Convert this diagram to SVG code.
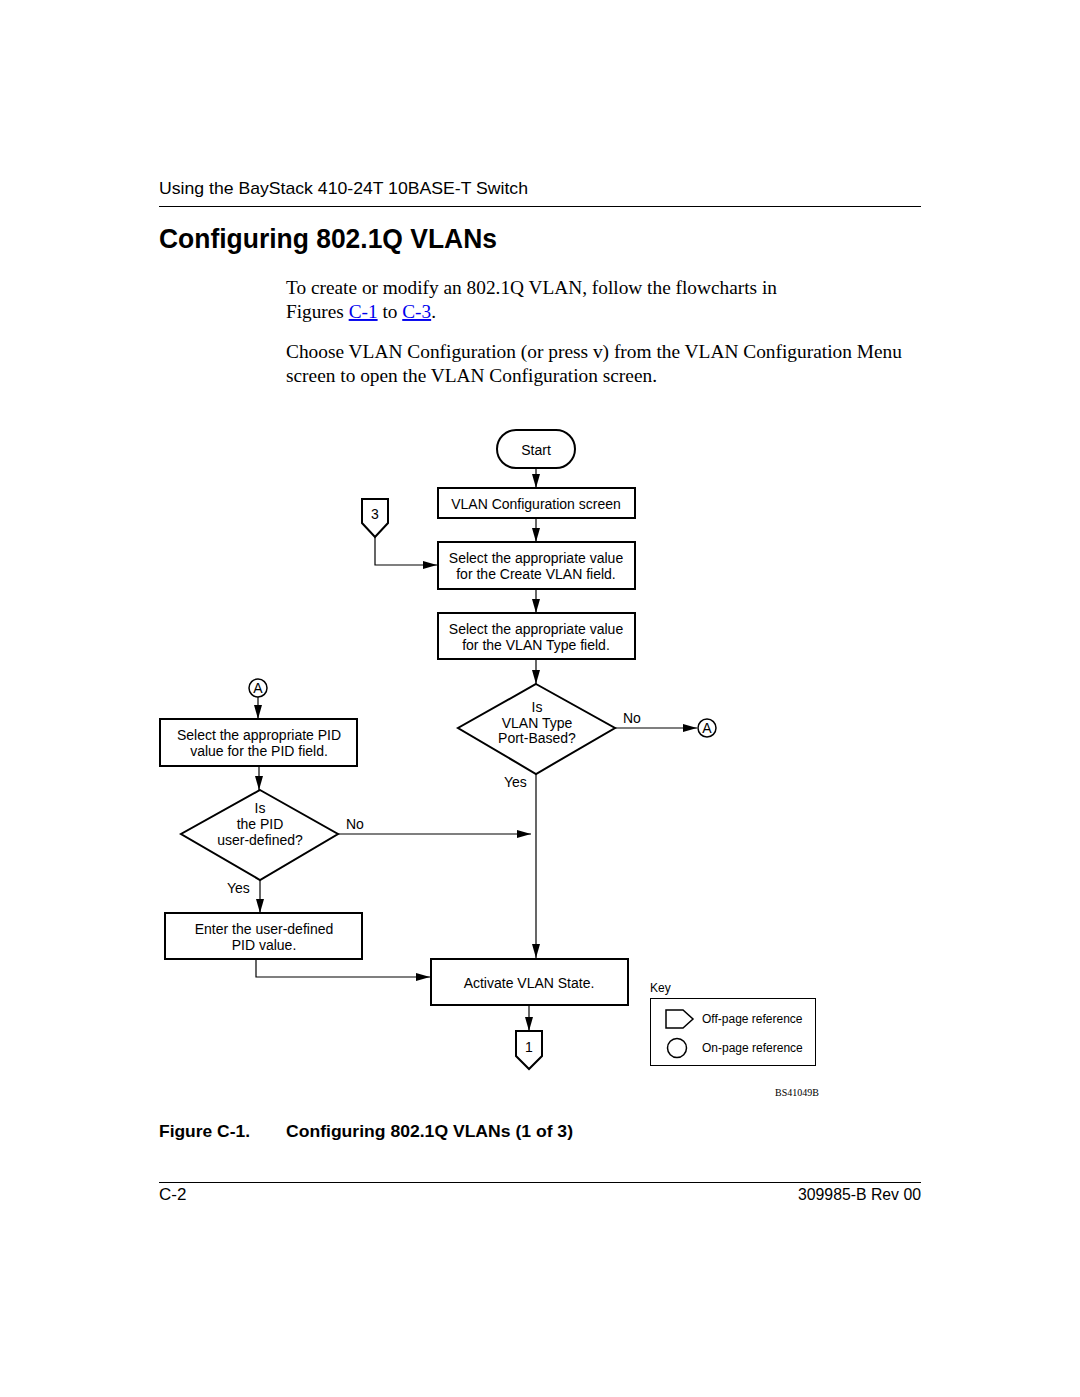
<svg xmlns="http://www.w3.org/2000/svg" width="1080" height="1397" viewBox="0 0 1080 1397">
<defs>
<marker id="ah" viewBox="0 0 14 8" refX="14" refY="4" markerWidth="14" markerHeight="8" markerUnits="userSpaceOnUse" orient="auto">
<path d="M0,0 L14,4 L0,8 Z" fill="#000"/>
</marker>
</defs>
<style>
.sans{font-family:"Liberation Sans",Arial,sans-serif;fill:#000}
.serif{font-family:"Liberation Serif","Times New Roman",serif;fill:#000}
.box{fill:#fff;stroke:#000;stroke-width:2}
.conn{fill:none;stroke:#000;stroke-width:1.2}
.fc{font-family:"Liberation Sans",Arial,sans-serif;font-size:14px;text-anchor:middle;fill:#000}
.lbl{font-family:"Liberation Sans",Arial,sans-serif;font-size:14px;fill:#000}
.key{font-family:"Liberation Sans",Arial,sans-serif;font-size:12px;fill:#000}
.link{fill:#00e;text-decoration:underline}
</style>
<rect width="1080" height="1397" fill="#fff"/>

<!-- page header -->
<text class="sans" x="159" y="194" font-size="17" textLength="369" lengthAdjust="spacingAndGlyphs">Using the BayStack 410-24T 10BASE-T Switch</text>
<line x1="159" y1="206.5" x2="921" y2="206.5" stroke="#000" stroke-width="1"/>
<text class="sans" x="159" y="248" font-size="27" font-weight="bold" textLength="338" lengthAdjust="spacingAndGlyphs">Configuring 802.1Q VLANs</text>
<text class="serif" x="286" y="294" font-size="19.3" textLength="491" lengthAdjust="spacingAndGlyphs">To create or modify an 802.1Q VLAN, follow the flowcharts in</text>
<text class="serif" x="286" y="318" font-size="19.3">Figures <tspan class="link">C-1</tspan> to <tspan class="link">C-3</tspan>.</text>
<text class="serif" x="286" y="358" font-size="19.3" textLength="616" lengthAdjust="spacingAndGlyphs">Choose VLAN Configuration (or press v) from the VLAN Configuration Menu</text>
<text class="serif" x="286" y="382" font-size="19.3" textLength="371" lengthAdjust="spacingAndGlyphs">screen to open the VLAN Configuration screen.</text>

<!-- connectors -->
<g id="connectors">
<line class="conn" x1="536" y1="468" x2="536" y2="488" marker-end="url(#ah)"/>
<line class="conn" x1="536" y1="518" x2="536" y2="542" marker-end="url(#ah)"/>
<line class="conn" x1="536" y1="589" x2="536" y2="613" marker-end="url(#ah)"/>
<line class="conn" x1="536" y1="659" x2="536" y2="684" marker-end="url(#ah)"/>
<polyline class="conn" points="375,537 375,565 437,565" marker-end="url(#ah)"/>
<line class="conn" x1="615" y1="728" x2="697" y2="728" marker-end="url(#ah)"/>
<line class="conn" x1="536" y1="774" x2="536" y2="958" marker-end="url(#ah)"/>
<line class="conn" x1="258" y1="697" x2="258" y2="719" marker-end="url(#ah)"/>
<line class="conn" x1="259" y1="766" x2="259" y2="790" marker-end="url(#ah)"/>
<line class="conn" x1="338" y1="834" x2="531" y2="834" marker-end="url(#ah)"/>
<line class="conn" x1="260" y1="880" x2="260" y2="913" marker-end="url(#ah)"/>
<polyline class="conn" points="256,960 256,977 430,977" marker-end="url(#ah)"/>
<line class="conn" x1="529" y1="1005" x2="529" y2="1031" marker-end="url(#ah)"/>
<text class="lbl" x="623" y="723">No</text>
<text class="lbl" x="504" y="787">Yes</text>
<text class="lbl" x="346" y="829">No</text>
<text class="lbl" x="227" y="893">Yes</text>
</g>

<g id="start">
<rect class="box" x="497" y="430" width="78" height="38" rx="19" ry="19"/>
<text class="fc" x="536" y="455">Start</text>
</g>
<g id="vlanConfigScreen">
<rect class="box" x="438" y="488" width="197" height="30"/>
<text class="fc" x="536" y="509">VLAN Configuration screen</text>
</g>
<g id="createVlan">
<rect class="box" x="438" y="542" width="197" height="47"/>
<text class="fc" x="536" y="563">Select the appropriate value</text>
<text class="fc" x="536" y="579">for the Create VLAN field.</text>
</g>
<g id="vlanType">
<rect class="box" x="438" y="613" width="197" height="46"/>
<text class="fc" x="536" y="634">Select the appropriate value</text>
<text class="fc" x="536" y="650">for the VLAN Type field.</text>
</g>
<g id="isPortBased">
<polygon class="box" points="536,684 615,728 536,774 458,728"/>
<text class="fc" x="537" y="712">Is</text>
<text class="fc" x="537" y="728">VLAN Type</text>
<text class="fc" x="537" y="743">Port-Based?</text>
</g>
<g id="offpage3">
<polygon class="box" points="362,499 388,499 388,523 375,537 362,523" stroke-width="1.5"/>
<text class="fc" x="375" y="519">3</text>
</g>
<g id="onpageA-right">
<circle cx="707" cy="728" r="9" fill="#fff" stroke="#000" stroke-width="1.5"/>
<text class="fc" x="707" y="733" font-size="12">A</text>
</g>
<g id="onpageA-left">
<circle cx="258" cy="688" r="9" fill="#fff" stroke="#000" stroke-width="1.5"/>
<text class="fc" x="258" y="693" font-size="12">A</text>
</g>
<g id="selectPid">
<rect class="box" x="160" y="719" width="197" height="47"/>
<text class="fc" x="259" y="740">Select the appropriate PID</text>
<text class="fc" x="259" y="756">value for the PID field.</text>
</g>
<g id="isPidUserDefined">
<polygon class="box" points="260,790 338,834 260,880 181,834"/>
<text class="fc" x="260" y="813">Is</text>
<text class="fc" x="260" y="829">the PID</text>
<text class="fc" x="260" y="845">user-defined?</text>
</g>
<g id="enterPid">
<rect class="box" x="165" y="913" width="197" height="46"/>
<text class="fc" x="264" y="934">Enter the user-defined</text>
<text class="fc" x="264" y="950">PID value.</text>
</g>
<g id="activate">
<rect class="box" x="431" y="959" width="197" height="46"/>
<text class="fc" x="529" y="988">Activate VLAN State.</text>
</g>
<g id="offpage1">
<polygon class="box" points="516,1031 542,1031 542,1056 529,1069 516,1056" stroke-width="1.5"/>
<text class="fc" x="529" y="1052">1</text>
</g>

<g id="key">
<text class="key" x="650" y="992">Key</text>
<rect x="650.5" y="998.5" width="165" height="67" fill="#fff" stroke="#000" stroke-width="1"/>
<polygon points="666,1010 683,1010 693,1019 683,1028 666,1028" fill="#fff" stroke="#000" stroke-width="1.5"/>
<text class="key" x="702" y="1023">Off-page reference</text>
<circle cx="677" cy="1048" r="9.5" fill="#fff" stroke="#000" stroke-width="1.5"/>
<text class="key" x="702" y="1052">On-page reference</text>
</g>
<text class="serif" x="819" y="1096" font-size="10" text-anchor="end">BS41049B</text>

<!-- caption and footer -->
<text class="sans" x="159" y="1137" font-size="17" font-weight="bold" textLength="91" lengthAdjust="spacingAndGlyphs">Figure C-1.</text>
<text class="sans" x="286" y="1137" font-size="17" font-weight="bold" textLength="287" lengthAdjust="spacingAndGlyphs">Configuring 802.1Q VLANs (1 of 3)</text>
<line x1="159" y1="1182.5" x2="921" y2="1182.5" stroke="#000" stroke-width="1"/>
<text class="sans" x="159" y="1200" font-size="17">C-2</text>
<text class="sans" x="798" y="1200" font-size="17" textLength="123" lengthAdjust="spacingAndGlyphs">309985-B Rev 00</text>
</svg>
